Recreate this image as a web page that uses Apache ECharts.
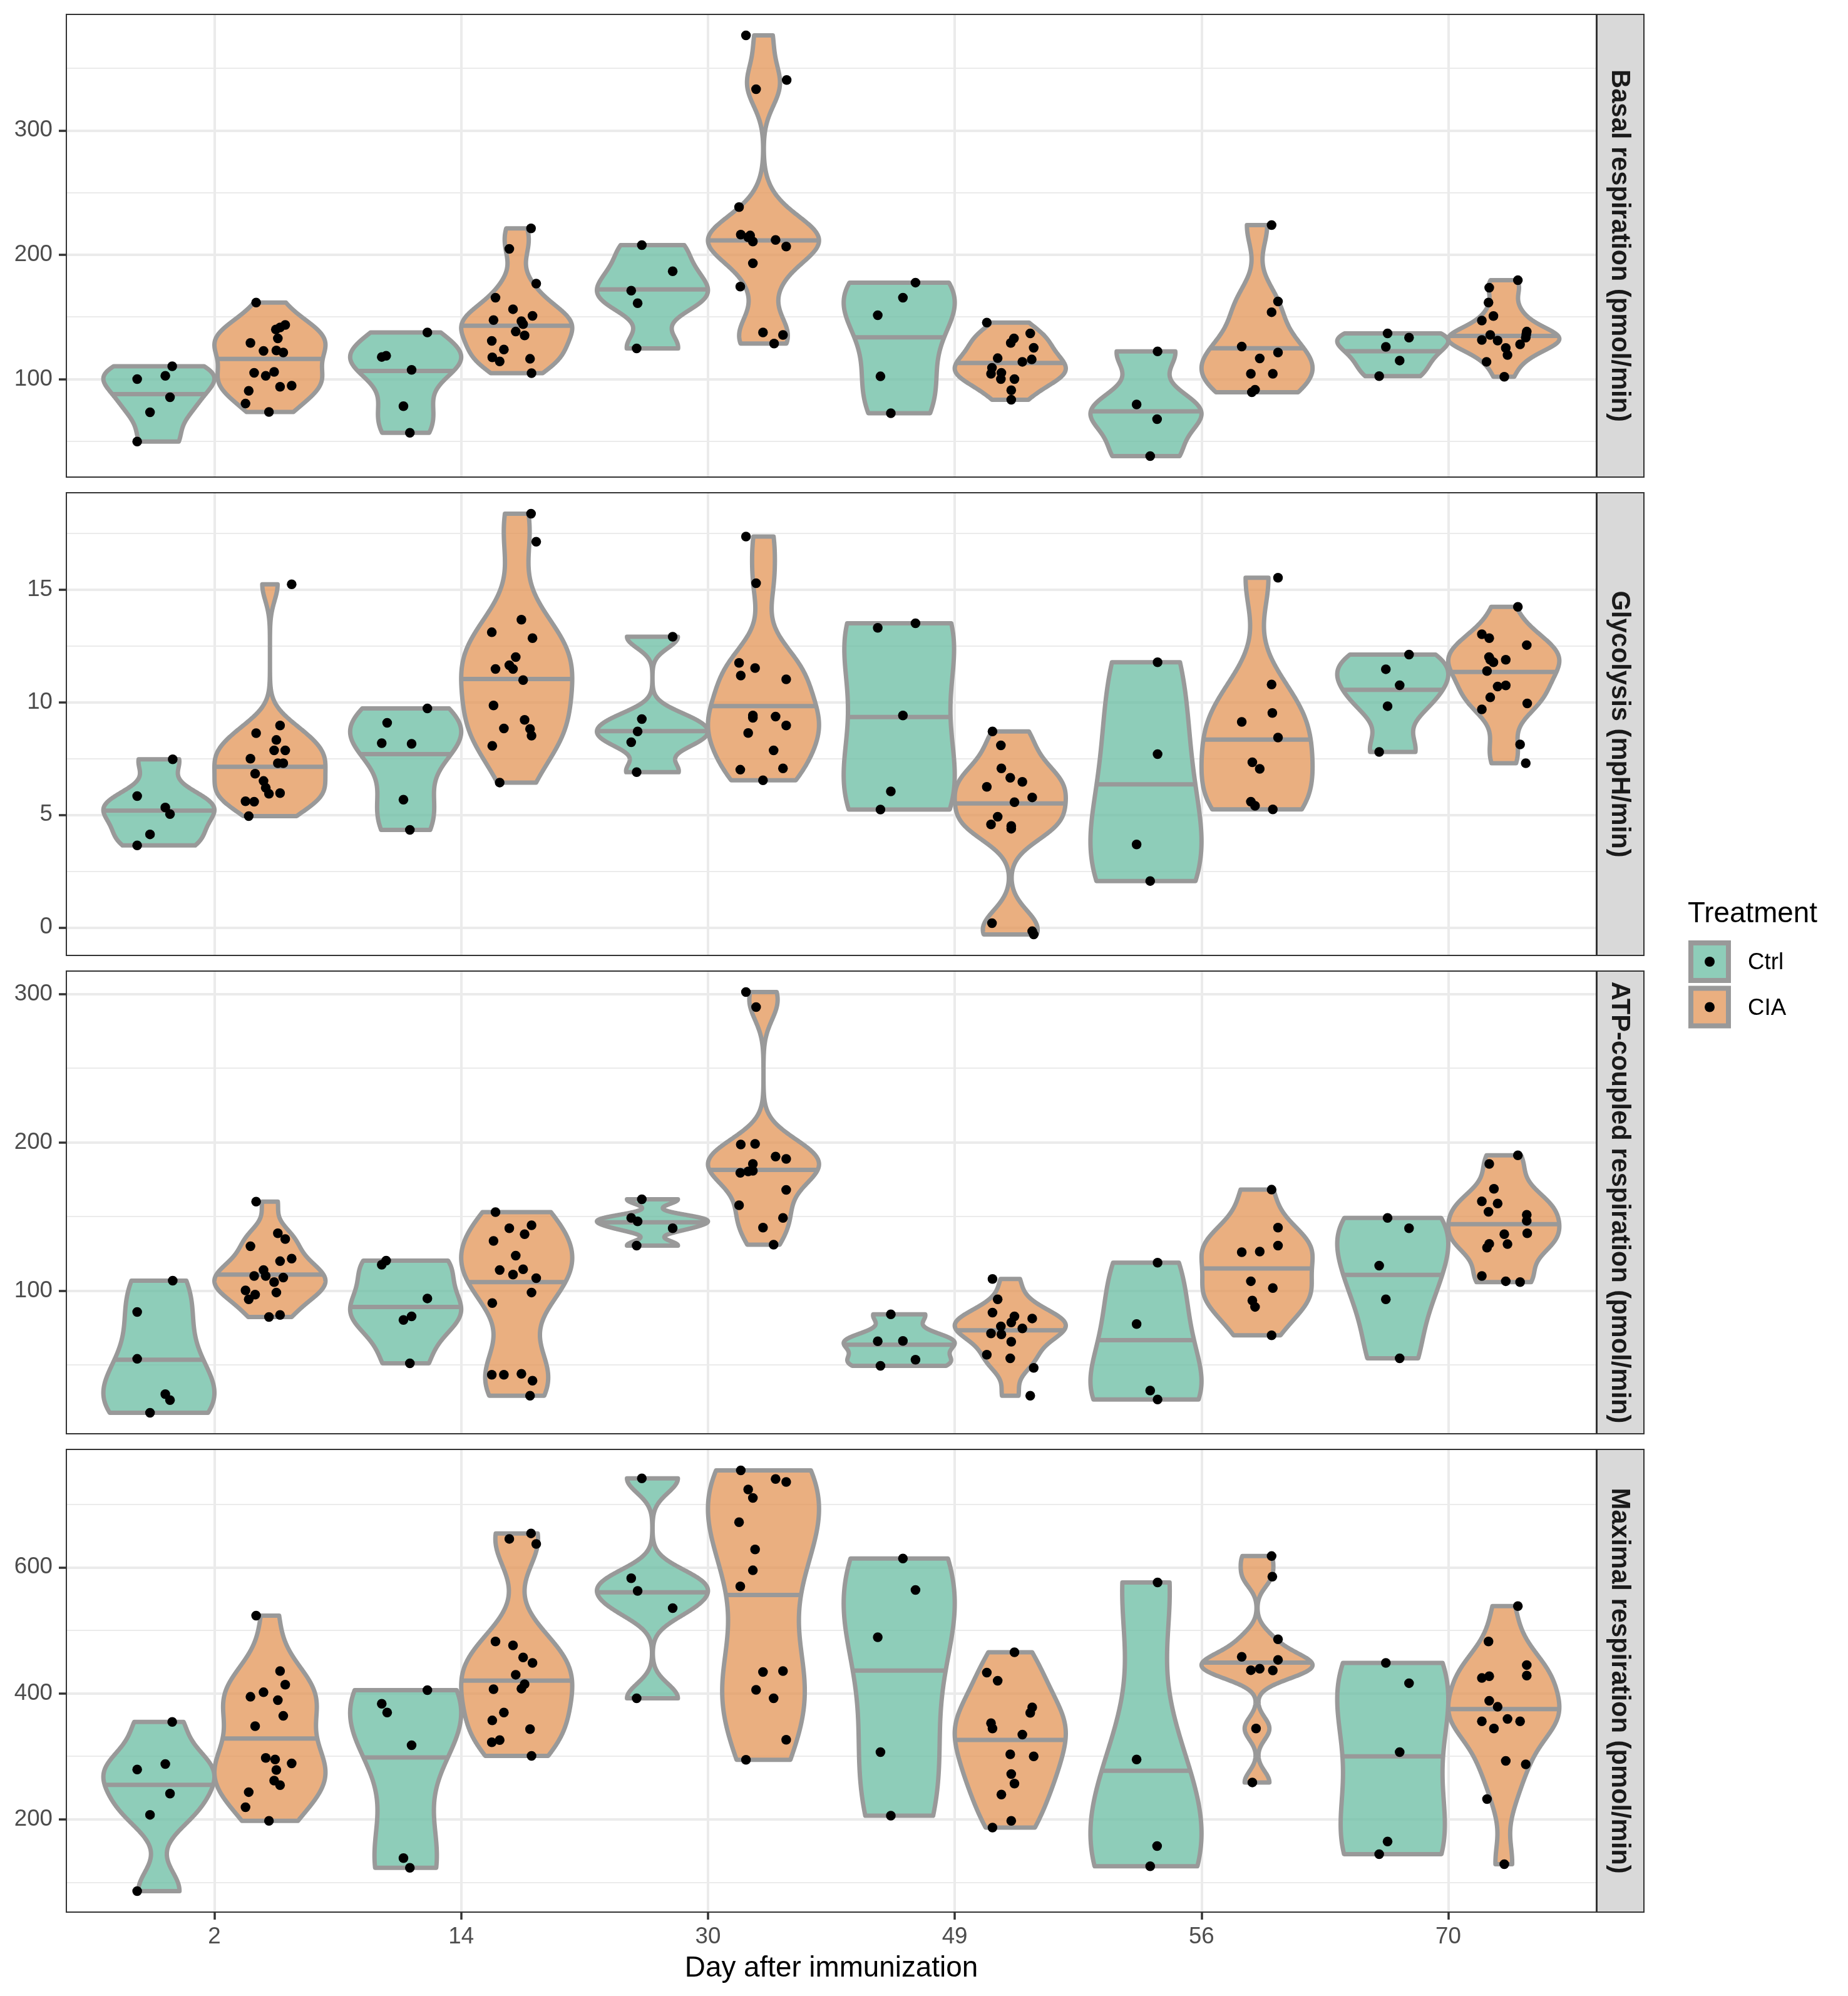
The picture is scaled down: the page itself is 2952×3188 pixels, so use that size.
<!DOCTYPE html>
<html><head><meta charset="utf-8">
<script src="https://cdn.jsdelivr.net/npm/echarts@6/dist/echarts.min.js"></script>
<style>html,body{margin:0;padding:0;background:#fff}#c{width:2952px;height:3188px}</style>
</head><body><div id="c"></div><script>
// ---------------- data ----------------
const days = ["2", "14", "30", "49", "56", "70"];
const treatments = ["Ctrl", "CIA"];
const panelTitles = ["Basal respiration (pmol/min)", "Glycolysis (mpH/min)", "ATP-coupled respiration (pmol/min)", "Maximal respiration (pmol/min)"];
const xTitle = "Day after immunization";
const legendTitle = "Treatment";

const basalTicks = [100, 200, 300];
const glycoTicks = [0, 5, 10, 15];
const atpTicks = [100, 200, 300];
const maximalTicks = [200, 400, 600];

// Basal respiration
const basalCtrl = [
  [100.0, 102.6, 110.3, 85.4, 73.3, 49.8],
  [137.5, 118.7, 117.8, 107.4, 78.2, 56.8],
  [207.8, 186.7, 171.1, 161.0, 124.7],
  [177.6, 165.5, 151.4, 102.2, 72.6],
  [122.3, 79.6, 67.8, 38.1],
  [136.7, 133.4, 125.9, 114.9, 102.4]
];
const basalCtrlJitter = [
  [-0.088, 0.026, 0.054, 0.045, -0.036, -0.088],
  [0.088, -0.079, -0.097, 0.024, -0.009, 0.017],
  [-0.043, 0.082, -0.086, -0.060, -0.064],
  [0.066, 0.015, -0.087, -0.076, -0.034],
  [0.047, -0.038, 0.045, 0.017],
  [-0.021, 0.066, -0.028, 0.028, -0.055]
];
const basalCIA = [
  [161.5, 143.5, 141.5, 139.9, 132.7, 129.1, 122.6, 123.0, 121.4, 105.0, 105.8, 102.6, 94.7, 93.8, 90.6, 80.3, 73.6],
  [221.2, 204.7, 176.8, 165.5, 156.2, 150.9, 147.5, 146.6, 144.2, 138.2, 135.1, 130.7, 123.8, 117.5, 114.2, 116.3, 104.8],
  [376.4, 340.6, 333.1, 238.3, 216.2, 215.5, 210.7, 211.9, 206.6, 193.2, 174.4, 137.5, 135.5, 128.6, 214.0],
  [145.4, 136.7, 132.7, 129.1, 125.2, 116.8, 115.8, 113.9, 109.1, 104.3, 105.0, 100.0, 100.0, 91.1, 83.4],
  [223.9, 162.4, 153.8, 126.2, 121.4, 116.6, 104.3, 104.3, 91.4, 89.4],
  [179.5, 173.5, 161.5, 150.7, 147.1, 138.2, 135.5, 133.4, 131.5, 131.0, 127.9, 125.0, 119.4, 113.9, 101.9, 136.0]
];
const basalCIAJitter = [
  [-0.056, 0.062, 0.041, 0.024, 0.032, -0.079, -0.026, 0.026, 0.054, -0.064, 0.017, -0.017, 0.088, 0.041, -0.086, -0.099, -0.004],
  [0.058, -0.030, 0.079, -0.086, -0.015, 0.064, -0.094, 0.019, 0.026, -0.004, 0.032, -0.101, -0.052, -0.099, -0.069, 0.054, 0.060],
  [-0.071, 0.094, -0.030, -0.099, -0.092, -0.054, -0.043, 0.049, 0.092, -0.043, -0.094, -0.002, 0.079, 0.043, -0.062],
  [-0.095, 0.081, 0.015, 0.002, 0.095, -0.051, 0.087, 0.049, -0.074, -0.078, -0.036, -0.038, 0.017, 0.004, 0.004],
  [0.059, 0.085, 0.059, -0.062, 0.085, 0.011, -0.025, 0.064, -0.008, -0.021],
  [0.057, -0.059, -0.062, -0.042, -0.089, 0.093, -0.055, 0.089, -0.089, -0.025, 0.066, 0.008, 0.015, -0.070, 0.002, 0.091]
];

// Glycolysis
const glycoCtrl = [
  [7.46, 5.83, 5.32, 5.03, 4.13, 3.64],
  [9.72, 9.08, 8.18, 8.15, 5.67, 4.33],
  [12.90, 9.25, 8.70, 8.22, 6.89],
  [13.50, 13.30, 9.41, 6.04, 5.23],
  [11.77, 7.69, 3.68, 2.06],
  [12.11, 11.46, 10.75, 9.82, 7.79]
];
const glycoCtrlJitter = [
  [0.056, -0.088, 0.026, 0.045, -0.036, -0.088],
  [0.088, -0.075, -0.097, 0.024, -0.009, 0.017],
  [0.082, -0.043, -0.060, -0.086, -0.064],
  [0.066, -0.087, 0.015, -0.034, -0.076],
  [0.047, 0.047, -0.038, 0.017],
  [0.066, -0.028, 0.028, -0.021, -0.055]
];
const glycoCIA = [
  [15.23, 8.96, 8.62, 8.32, 7.86, 7.86, 7.49, 7.29, 7.29, 6.82, 6.50, 6.20, 5.93, 5.96, 5.60, 5.58, 4.94],
  [18.36, 17.12, 13.66, 13.10, 12.84, 12.00, 11.64, 11.47, 11.47, 10.98, 9.85, 9.21, 8.83, 8.81, 8.51, 8.06, 6.43],
  [17.35, 15.28, 11.74, 11.51, 11.18, 11.01, 9.41, 9.36, 8.96, 8.63, 7.86, 7.00, 7.06, 6.53, 9.30],
  [8.70, 8.08, 7.06, 6.64, 6.46, 6.24, 5.77, 5.56, 4.91, 4.57, 4.50, 4.38, 0.19, -0.17, -0.31],
  [15.52, 10.78, 9.52, 9.12, 8.43, 7.33, 7.04, 5.58, 5.40, 5.24],
  [14.23, 13.01, 12.84, 12.53, 11.88, 11.77, 11.88, 11.38, 10.69, 10.74, 10.21, 9.94, 9.68, 8.12, 7.29, 12.00]
];
const glycoCIAJitter = [
  [0.088, 0.041, -0.056, 0.026, 0.017, 0.062, -0.079, 0.032, 0.054, -0.060, -0.026, -0.017, -0.004, 0.041, -0.099, -0.064, -0.086],
  [0.058, 0.079, 0.019, -0.101, 0.064, -0.004, -0.030, -0.086, -0.015, 0.026, -0.094, 0.032, -0.052, 0.054, 0.060, -0.099, -0.069],
  [-0.071, -0.030, -0.099, -0.034, -0.092, 0.092, -0.043, 0.049, 0.092, -0.062, 0.041, -0.094, 0.079, -0.002, -0.043],
  [-0.072, -0.038, -0.036, 0.000, 0.049, -0.095, 0.089, 0.017, -0.051, -0.078, 0.004, 0.004, -0.074, 0.089, 0.095],
  [0.085, 0.059, 0.062, -0.062, 0.085, -0.019, 0.011, -0.025, -0.008, 0.064],
  [0.057, -0.089, -0.059, 0.093, -0.055, -0.042, 0.008, -0.068, -0.025, 0.008, -0.055, 0.095, -0.089, 0.066, 0.089, -0.060]
];

// ATP-coupled respiration
const atpCtrl = [
  [106.8, 85.7, 54.1, 30.3, 26.3, 17.8],
  [120.3, 117.5, 94.8, 82.7, 80.3, 51.1],
  [161.6, 149.1, 146.7, 142.1, 130.4],
  [84.1, 66.0, 66.2, 53.5, 49.4],
  [118.9, 77.6, 32.7, 26.7],
  [149.1, 142.1, 116.9, 94.2, 54.5]
];
const atpCtrlJitter = [
  [0.056, -0.088, -0.088, 0.026, 0.045, -0.036],
  [-0.079, -0.097, 0.088, 0.024, -0.009, 0.017],
  [-0.043, -0.086, -0.060, 0.082, -0.064],
  [-0.034, -0.087, 0.015, 0.066, -0.076],
  [0.047, -0.038, 0.017, 0.047],
  [-0.021, 0.066, -0.055, -0.028, 0.028]
];
const atpCIA = [
  [160.0, 138.7, 134.8, 130.0, 121.6, 119.9, 113.9, 109.9, 109.9, 108.9, 105.8, 100.2, 97.4, 94.2, 98.8, 82.3, 83.7],
  [153.0, 142.1, 144.1, 138.1, 133.6, 123.6, 113.9, 114.5, 110.9, 108.5, 98.8, 91.7, 43.4, 43.4, 44.0, 39.4, 29.3],
  [301.2, 291.1, 198.5, 198.9, 190.4, 188.8, 185.4, 179.4, 180.4, 180.8, 167.9, 157.6, 149.1, 142.5, 131.0],
  [107.9, 94.2, 85.3, 82.7, 81.3, 78.6, 74.6, 76.0, 71.2, 70.6, 65.6, 56.9, 54.5, 48.0, 29.3],
  [168.1, 142.5, 130.4, 126.0, 126.4, 106.4, 101.8, 93.4, 89.1, 70.0],
  [191.2, 185.4, 168.7, 160.2, 158.8, 153.2, 151.2, 147.1, 138.7, 138.1, 131.4, 131.6, 129.0, 109.9, 106.4, 105.8]
];
const atpCIAJitter = [
  [-0.056, 0.032, 0.062, -0.079, 0.088, 0.041, -0.026, -0.064, -0.017, 0.054, 0.017, -0.099, -0.060, -0.086, 0.026, -0.004, 0.041],
  [-0.086, -0.030, 0.060, 0.032, -0.094, -0.004, -0.069, 0.026, -0.015, 0.079, 0.060, -0.099, -0.101, -0.052, 0.019, 0.064, 0.054],
  [-0.071, -0.030, -0.092, -0.034, 0.049, 0.092, -0.043, -0.094, -0.062, -0.043, 0.092, -0.099, 0.079, -0.002, 0.041],
  [-0.072, -0.051, -0.072, 0.017, 0.089, 0.004, 0.049, -0.038, -0.078, -0.036, 0.004, -0.095, 0.000, 0.095, 0.081],
  [0.059, 0.085, 0.085, -0.062, 0.011, -0.025, 0.064, -0.019, -0.008, 0.059],
  [0.057, -0.059, -0.040, -0.089, -0.025, -0.062, 0.093, 0.093, 0.095, 0.002, 0.015, -0.059, -0.068, -0.089, 0.008, 0.066]
];

// Maximal respiration
const maximalCtrl = [
  [354.6, 287.9, 279.2, 240.8, 207.2, 86.2],
  [405.0, 383.4, 369.5, 317.6, 138.5, 123.2],
  [741.2, 582.7, 562.5, 535.2, 392.1],
  [613.9, 564.0, 489.1, 306.6, 205.8],
  [576.0, 295.1, 157.7, 125.6],
  [448.3, 416.1, 306.6, 164.9, 144.8]
];
const maximalCtrlJitter = [
  [0.054, 0.026, -0.088, 0.045, -0.036, -0.088],
  [0.088, -0.097, -0.075, 0.024, -0.009, 0.017],
  [-0.043, -0.086, -0.060, 0.082, -0.064],
  [0.015, 0.066, -0.087, -0.076, -0.034],
  [0.047, -0.038, 0.045, 0.017],
  [-0.028, 0.066, 0.028, -0.021, -0.055]
];
const maximalCIA = [
  [523.2, 435.3, 413.7, 401.7, 394.5, 389.2, 364.2, 347.9, 297.5, 295.1, 288.8, 278.3, 261.5, 254.3, 243.2, 219.2, 197.6],
  [653.8, 645.1, 637.0, 482.4, 476.1, 456.9, 448.3, 429.5, 414.6, 407.4, 406.5, 369.5, 357.0, 343.1, 325.8, 322.4, 300.8],
  [753.7, 740.2, 735.4, 723.4, 710.0, 671.5, 628.3, 595.2, 569.8, 433.9, 435.3, 405.5, 392.1, 326.3, 294.6],
  [465.1, 432.9, 419.9, 377.7, 369.0, 352.7, 344.1, 334.5, 303.2, 299.9, 272.0, 256.7, 239.4, 197.6, 187.0],
  [617.8, 585.1, 485.7, 457.9, 453.1, 439.1, 436.7, 436.3, 344.1, 258.6],
  [538.5, 482.4, 444.9, 428.1, 424.3, 427.1, 388.2, 378.6, 359.4, 355.6, 355.6, 344.1, 292.7, 287.4, 232.2, 128.9]
];
const maximalCIAJitter = [
  [-0.056, 0.041, 0.062, -0.026, -0.079, 0.032, 0.054, -0.060, -0.017, 0.021, 0.088, 0.026, 0.017, 0.041, -0.086, -0.099, -0.004],
  [0.058, -0.030, 0.079, -0.086, -0.015, 0.026, 0.064, -0.004, 0.032, 0.019, -0.094, -0.052, -0.099, 0.054, -0.069, -0.101, 0.060],
  [-0.092, 0.049, 0.092, -0.062, -0.043, -0.099, -0.034, -0.043, -0.094, -0.002, 0.079, -0.030, 0.041, 0.092, -0.071],
  [0.017, -0.095, -0.051, 0.089, 0.081, -0.078, -0.072, 0.049, 0.000, 0.095, 0.004, 0.017, -0.036, 0.004, -0.072],
  [0.059, 0.062, 0.085, -0.062, 0.085, 0.011, -0.025, 0.064, -0.004, -0.019],
  [0.057, -0.062, 0.093, 0.093, -0.089, -0.059, -0.059, -0.025, 0.015, -0.089, 0.066, -0.040, 0.008, 0.089, -0.068, 0.002]
];

// ---------------- layout & style ----------------
const FONT = '"Liberation Sans", Arial, Helvetica, sans-serif';
const FILL = { Ctrl: 'rgba(104,188,162,0.75)', CIA: 'rgba(227,148,86,0.75)' };
const OUTLINE = '#999999';
const GRID_LEFT = 106, GRID_W = 2444, GRID_H = 739;
const GRID_TOPS = [23, 787, 1551, 2315];
const DODGE = 0.225;      // half of dodge width 0.9 / 2 groups
const HALF_W = 0.225;     // max violin half-width (data units)

const panels = [
  { title: panelTitles[0], ticks: basalTicks, ctrl: basalCtrl, ctrlJit: basalCtrlJitter, cia: basalCIA, ciaJit: basalCIAJitter },
  { title: panelTitles[1], ticks: glycoTicks, ctrl: glycoCtrl, ctrlJit: glycoCtrlJitter, cia: glycoCIA, ciaJit: glycoCIAJitter },
  { title: panelTitles[2], ticks: atpTicks, ctrl: atpCtrl, ctrlJit: atpCtrlJitter, cia: atpCIA, ciaJit: atpCIAJitter },
  { title: panelTitles[3], ticks: maximalTicks, ctrl: maximalCtrl, ctrlJit: maximalCtrlJitter, cia: maximalCIA, ciaJit: maximalCIAJitter }
];

// ---------------- violin statistics (gaussian KDE, bw.nrd0, trimmed) ----------------
function q7(s, p) {
  const h = (s.length - 1) * p, lo = Math.floor(h), hi = Math.min(lo + 1, s.length - 1);
  return s[lo] + (h - lo) * (s[hi] - s[lo]);
}
function bwNrd0(s) {
  const n = s.length, mean = s.reduce((a, b) => a + b, 0) / n;
  const sd = Math.sqrt(s.reduce((a, b) => a + (b - mean) * (b - mean), 0) / (n - 1));
  let lo = Math.min(sd, (q7(s, 0.75) - q7(s, 0.25)) / 1.34);
  if (!lo) lo = sd || Math.abs(s[0]) || 1;
  return 0.9 * lo * Math.pow(n, -0.2);
}
function violinShape(vals) {
  const s = vals.slice().sort((a, b) => a - b);
  const bw = bwNrd0(s), N = 512, y0 = s[0], y1 = s[s.length - 1];
  const ys = [], d = [];
  for (let i = 0; i < N; i++) {
    const y = y0 + (y1 - y0) * i / (N - 1);
    let t = 0;
    for (const v of s) { const z = (y - v) / bw; t += Math.exp(-0.5 * z * z); }
    ys.push(y); d.push(t);
  }
  const mx = Math.max(...d);
  const w = d.map(v => v / mx);
  let c = 0; const cum = d.map(v => (c += v));
  const ecdf = cum.map(v => v / c);
  let med = ys[0], wm = w[0];
  for (let i = 1; i < N; i++) {
    if (ecdf[i] >= 0.5) {
      const f = (0.5 - ecdf[i - 1]) / (ecdf[i] - ecdf[i - 1]);
      med = ys[i - 1] + f * (ys[i] - ys[i - 1]);
      wm = w[i - 1] + f * (w[i] - w[i - 1]);
      break;
    }
  }
  return { ys, w, med, wm };
}

// ---------------- build option ----------------
const dayPositions = days.map((d, i) => i + 1);
const grids = [], xAxes = [], yAxes = [], series = [], elements = [];

panels.forEach((p, pi) => {
  const top = GRID_TOPS[pi];
  grids.push({ left: GRID_LEFT, top: top, width: GRID_W, height: GRID_H, show: false });

  const all = [].concat(...p.ctrl, ...p.cia);
  const lo = Math.min(...all), hi = Math.max(...all), pad = (hi - lo) * 0.05;
  const ymin = lo - pad, ymax = hi + pad;
  const step = p.ticks[1] - p.ticks[0];
  let v = p.ticks[0] - step / 2;
  while (v - step > ymin) v -= step;
  const minors = [];
  for (; v < ymax; v += step) if (v > ymin) minors.push(+v.toFixed(6));

  xAxes.push({
    type: 'value', gridIndex: pi, min: 0.4, max: 6.6,
    axisLine: { show: false },
    axisTick: { show: pi === 3, customValues: dayPositions, length: 12, lineStyle: { color: '#333333', width: 3.5 } },
    axisLabel: { show: pi === 3, customValues: dayPositions, formatter: val => days[Math.round(val) - 1],
      fontSize: 36.7, color: '#4D4D4D', fontFamily: FONT, margin: 21 },
    splitLine: { show: true, lineStyle: { color: '#EBEBEB', width: 4 } },
    name: pi === 3 ? xTitle : '', nameLocation: 'middle', nameGap: 67,
    nameTextStyle: { fontSize: 45.8, color: '#000000', fontFamily: FONT }
  });
  yAxes.push({
    type: 'value', gridIndex: pi, min: ymin, max: ymax, position: 'left',
    axisLine: { show: false },
    axisTick: { show: true, customValues: p.ticks, length: 12, lineStyle: { color: '#333333', width: 3.5 } },
    axisLabel: { customValues: p.ticks, fontSize: 36.7, color: '#4D4D4D', fontFamily: FONT, margin: 22 },
    splitLine: { show: true, lineStyle: { color: '#EBEBEB', width: 4 } }
  });
  yAxes.push({
    type: 'value', gridIndex: pi, min: ymin, max: ymax, position: 'right',
    axisLine: { show: false },
    axisTick: { show: false, customValues: minors },
    axisLabel: { show: false, customValues: minors },
    splitLine: { show: true, lineStyle: { color: '#EBEBEB', width: 2 } }
  });

  const groups = [], pts = [];
  days.forEach((d, di) => {
    [['Ctrl', p.ctrl, p.ctrlJit, -1], ['CIA', p.cia, p.ciaJit, 1]].forEach(([tr, vals, jit, sgn]) => {
      const xc = di + 1 + sgn * DODGE;
      groups.push({ tr: tr, xc: xc, shape: violinShape(vals[di]) });
      vals[di].forEach((yv, k) => pts.push([xc + jit[di][k], yv]));
    });
  });

  series.push({
    type: 'custom', xAxisIndex: pi, yAxisIndex: 2 * pi, silent: true, clip: false, z: 2,
    data: groups.map((g, i) => [g.xc, g.shape.med, i]),
    encode: { x: 0, y: 1 },
    renderItem: (params, api) => {
      const g = groups[api.value(2)], sh = g.shape;
      const poly = [];
      for (let i = 0; i < sh.ys.length; i++) poly.push(api.coord([g.xc - HALF_W * sh.w[i], sh.ys[i]]));
      for (let i = sh.ys.length - 1; i >= 0; i--) poly.push(api.coord([g.xc + HALF_W * sh.w[i], sh.ys[i]]));
      const m1 = api.coord([g.xc - HALF_W * sh.wm, sh.med]);
      const m2 = api.coord([g.xc + HALF_W * sh.wm, sh.med]);
      return {
        type: 'group',
        children: [
          { type: 'polygon', shape: { points: poly }, style: { fill: FILL[g.tr], stroke: OUTLINE, lineWidth: 7, lineJoin: 'round' } },
          { type: 'line', shape: { x1: m1[0], y1: m1[1], x2: m2[0], y2: m2[1] }, style: { stroke: OUTLINE, lineWidth: 7 } }
        ]
      };
    }
  });
  series.push({
    type: 'scatter', xAxisIndex: pi, yAxisIndex: 2 * pi, silent: true, z: 3,
    symbol: 'circle', symbolSize: 15.5, itemStyle: { color: '#000000', opacity: 1 },
    data: pts
  });

  // panel border
  elements.push({ type: 'rect', z: 100, silent: true,
    shape: { x: GRID_LEFT, y: top, width: GRID_W, height: GRID_H },
    style: { fill: 'rgba(0,0,0,0)', stroke: '#333333', lineWidth: 2 } });
  // strip
  elements.push({ type: 'rect', z: 100, silent: true,
    shape: { x: GRID_LEFT + GRID_W + 1, y: top, width: 75, height: GRID_H },
    style: { fill: '#D9D9D9', stroke: '#333333', lineWidth: 2 } });
  elements.push({ type: 'text', z: 101, silent: true,
    x: GRID_LEFT + GRID_W + 36, y: top + GRID_H / 2, rotation: -Math.PI / 2,
    style: { text: p.title, fontSize: 41.7, fontWeight: 'bold', fontFamily: FONT, fill: '#1A1A1A', align: 'center', verticalAlign: 'middle' } });
});

// legend
elements.push({ type: 'text', z: 100, silent: true, x: 2696, y: 1460,
  style: { text: legendTitle, fontSize: 45.8, fontFamily: FONT, fill: '#000000', align: 'left', verticalAlign: 'middle' } });
treatments.forEach((tr, i) => {
  const cy = 1536 + i * 72.5;
  elements.push({ type: 'rect', z: 100, silent: true,
    shape: { x: 2701, y: cy - 30, width: 60, height: 60 },
    style: { fill: FILL[tr], stroke: OUTLINE, lineWidth: 8 } });
  elements.push({ type: 'circle', z: 101, silent: true,
    shape: { cx: 2731, cy: cy, r: 8 }, style: { fill: '#000000' } });
  elements.push({ type: 'text', z: 100, silent: true, x: 2792, y: cy + 2,
    style: { text: tr, fontSize: 36.7, fontFamily: FONT, fill: '#000000', align: 'left', verticalAlign: 'middle' } });
});

const chart = echarts.init(document.getElementById('c'), null, { renderer: 'canvas' });
chart.setOption({
  animation: false,
  backgroundColor: '#ffffff',
  grid: grids,
  xAxis: xAxes,
  yAxis: yAxes,
  series: series,
  graphic: { elements: elements }
});
</script></body></html>
